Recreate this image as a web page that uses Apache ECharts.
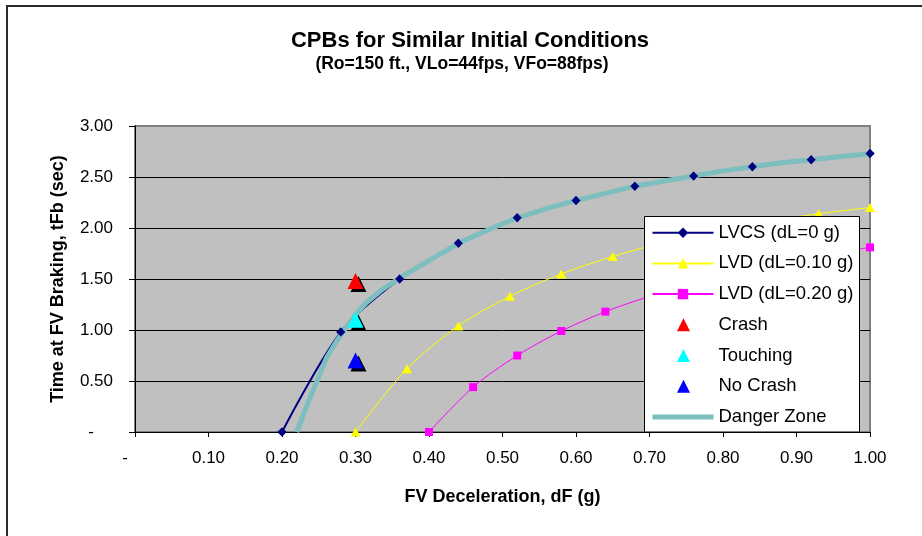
<!DOCTYPE html>
<html>
<head>
<meta charset="utf-8">
<script src="https://cdn.jsdelivr.net/npm/echarts@6/dist/echarts.min.js"></script>
<style>
  html, body { margin: 0; padding: 0; background: #fff; }
  #chart { width: 922px; height: 536px; }
</style>
</head>
<body>
<div id="chart"></div>
<script>
// FV deceleration (g) and time at FV braking (sec) for each curve
const lvcsX = [0.20, 0.28, 0.36, 0.44, 0.52, 0.60, 0.68, 0.76, 0.84, 0.92, 1.00];
const lvcsY = [0.00, 0.98, 1.50, 1.85, 2.10, 2.27, 2.41, 2.51, 2.60, 2.67, 2.73];

const lvd10X = [0.30, 0.37, 0.44, 0.51, 0.58, 0.65, 0.72, 0.79, 0.86, 0.93, 1.00];
const lvd10Y = [0.00, 0.62, 1.04, 1.33, 1.55, 1.72, 1.86, 1.97, 2.06, 2.14, 2.20];

const lvd20X = [0.40, 0.46, 0.52, 0.58, 0.64, 0.70, 0.76, 0.82, 0.88, 0.94, 1.00];
const lvd20Y = [0.00, 0.44, 0.75, 0.99, 1.18, 1.33, 1.46, 1.57, 1.66, 1.74, 1.81];

const dangerX = [0.22, 0.235, 0.25, 0.26, 0.275, 0.29, 0.30, 0.315, 0.335, 0.36, 0.40, 0.44, 0.48, 0.52, 0.56, 0.60, 0.64, 0.68, 0.72, 0.76, 0.80, 0.84, 0.88, 0.92, 0.96, 1.01];
const dangerY = [0.00, 0.28, 0.54, 0.72, 0.90, 1.05, 1.15, 1.27, 1.39, 1.51, 1.68, 1.85, 1.98, 2.10, 2.19, 2.27, 2.34, 2.41, 2.46, 2.51, 2.56, 2.60, 2.64, 2.67, 2.70, 2.735];

// Test outcomes
const crashPt = [0.30, 1.48];
const touchingPt = [0.30, 1.10];
const noCrashPt = [0.30, 0.70];

// Axis ticks
const xTicks = { min: 0, max: 1, step: 0.1 };
const yTicks = { min: 0, max: 3, step: 0.5 };

const names = {
  lvcs: 'LVCS (dL=0 g)',
  lvd10: 'LVD (dL=0.10 g)',
  lvd20: 'LVD (dL=0.20 g)',
  crash: 'Crash',
  touching: 'Touching',
  noCrash: 'No Crash',
  danger: 'Danger Zone'
};

const FONT = "'Liberation Sans', Arial, sans-serif";
const zip = (xs, ys) => xs.map((x, i) => [x, ys[i]]);

// Triangle legend icon centred in the same box as the line icons
const TRI_ICON = 'path://M0,0M61,13M24.5,13L31,0L37.5,13Z';
const noShadow = { opacity: 1, shadowColor: 'rgba(0,0,0,0)', shadowOffsetX: 0, shadowOffsetY: 0, shadowBlur: 0 };

function tickFormatter(v) {
  if (Math.abs(v) < 1e-9) return '{z|-}';
  return v.toFixed(2);
}

const labelBase = { fontSize: 17, color: '#000', fontFamily: FONT };

const triangleStyle = (color) => ({
  color: color,
  opacity: 1,
  shadowColor: '#000',
  shadowOffsetX: 3,
  shadowOffsetY: 3,
  shadowBlur: 0
});

const chart = echarts.init(document.getElementById('chart'));
chart.setOption({
  animation: false,
  backgroundColor: '#fff',
  title: [
    {
      text: 'CPBs for Similar Initial Conditions',
      left: 470, top: 41, padding: 0,
      textAlign: 'center', textVerticalAlign: 'middle',
      textStyle: { fontSize: 22, fontWeight: 'bold', color: '#000', fontFamily: FONT }
    },
    {
      text: '(Ro=150 ft., VLo=44fps, VFo=88fps)',
      left: 462, top: 64, padding: 0,
      textAlign: 'center', textVerticalAlign: 'middle',
      textStyle: { fontSize: 17.5, fontWeight: 'bold', color: '#000', fontFamily: FONT }
    }
  ],
  grid: {
    left: 135, right: 52, top: 126, bottom: 104,
    show: true, backgroundColor: '#C0C0C0', borderColor: '#808080', borderWidth: 2
  },
  xAxis: {
    type: 'value',
    min: xTicks.min, max: xTicks.max, interval: xTicks.step,
    axisLine: { show: true, lineStyle: { color: '#000', width: 1 } },
    axisTick: { show: true, length: 5, lineStyle: { color: '#000' } },
    splitLine: { show: false },
    axisLabel: Object.assign({}, labelBase, {
      margin: 18,
      formatter: tickFormatter,
      rich: { z: Object.assign({}, labelBase, { padding: [0, 20, 0, 0] }) }
    }),
    name: 'FV Deceleration, dF (g)',
    nameLocation: 'middle',
    nameGap: 56,
    nameTextStyle: { fontSize: 18, fontWeight: 'bold', color: '#000', fontFamily: FONT }
  },
  yAxis: {
    type: 'value',
    min: yTicks.min, max: yTicks.max, interval: yTicks.step,
    axisLine: { show: true, lineStyle: { color: '#000', width: 1 } },
    axisTick: { show: true, length: 6, lineStyle: { color: '#000' } },
    splitLine: { show: true, showMinLine: false, showMaxLine: false, lineStyle: { color: '#000', width: 1 } },
    axisLabel: Object.assign({}, labelBase, {
      margin: 22,
      formatter: tickFormatter,
      rich: { z: Object.assign({}, labelBase, { padding: [0, 19, 0, 0] }) }
    }),
    name: 'Time at FV Braking, tFb (sec)',
    nameLocation: 'middle',
    nameGap: 68,
    nameRotate: 90,
    nameTextStyle: { fontSize: 18, fontWeight: 'bold', color: '#000', fontFamily: FONT }
  },
  legend: {
    orient: 'vertical',
    left: 650, top: 222.7, padding: 0,
    itemWidth: 61, itemHeight: 13, itemGap: 10.7,
    selectedMode: false,
    z: 7,
    textStyle: { fontSize: 18.5, lineHeight: 20, color: '#000', fontFamily: FONT },
    data: [
      { name: names.lvcs },
      { name: names.lvd10 },
      { name: names.lvd20 },
      { name: names.crash, icon: TRI_ICON, itemStyle: noShadow },
      { name: names.touching, icon: TRI_ICON, itemStyle: noShadow },
      { name: names.noCrash, icon: TRI_ICON, itemStyle: noShadow },
      { name: names.danger, itemStyle: { color: 'rgba(0,0,0,0)' }, lineStyle: { width: 5 } }
    ]
  },
  graphic: [
    {
      type: 'rect', z: 100, silent: true,
      shape: { x: 7, y: 6, width: 1000, height: 1000 },
      style: { fill: 'none', stroke: '#2b2b2b', lineWidth: 2 }
    },
    {
      type: 'rect', z: 6, silent: true,
      shape: { x: 644.5, y: 216.5, width: 215, height: 215.5 },
      style: { fill: '#fff', stroke: '#000', lineWidth: 1 }
    }
  ],
  series: [
    {
      name: names.lvcs, type: 'line', z: 2,
      data: zip(lvcsX, lvcsY),
      smooth: 0.3,
      symbol: 'diamond', symbolSize: 9,
      color: '#000080',
      lineStyle: { width: 2, color: '#000080' }
    },
    {
      name: names.lvd10, type: 'line', z: 2,
      data: zip(lvd10X, lvd10Y),
      smooth: 0.3,
      symbol: 'triangle', symbolSize: [10, 9],
      color: '#FFFF00',
      lineStyle: { width: 1, color: '#FFFF00' }
    },
    {
      name: names.lvd20, type: 'line', z: 2,
      data: zip(lvd20X, lvd20Y),
      smooth: 0.3,
      symbol: 'rect', symbolSize: 8,
      color: '#FF00FF',
      lineStyle: { width: 1, color: '#FF00FF' }
    },
    {
      name: names.crash, type: 'scatter', z: 5,
      data: [crashPt],
      symbol: 'triangle', symbolSize: 16,
      itemStyle: triangleStyle('#FF0000')
    },
    {
      name: names.touching, type: 'scatter', z: 5,
      data: [touchingPt],
      symbol: 'triangle', symbolSize: 16,
      itemStyle: triangleStyle('#00FFFF')
    },
    {
      name: names.noCrash, type: 'scatter', z: 5,
      data: [noCrashPt],
      symbol: 'triangle', symbolSize: 16,
      itemStyle: triangleStyle('#0000FF')
    },
    {
      name: names.danger, type: 'line', z: 3,
      data: zip(dangerX, dangerY),
      clip: false,
      symbol: 'none',
      color: '#7DBEBE',
      lineStyle: { width: 5, color: '#7DBEBE' }
    },
    {
      // LVCS markers drawn again above the Danger Zone band
      name: names.lvcs, type: 'scatter', z: 4,
      data: zip(lvcsX, lvcsY),
      symbol: 'diamond', symbolSize: 9,
      itemStyle: { color: '#000080', opacity: 1 }
    }
  ]
});
</script>
</body>
</html>
